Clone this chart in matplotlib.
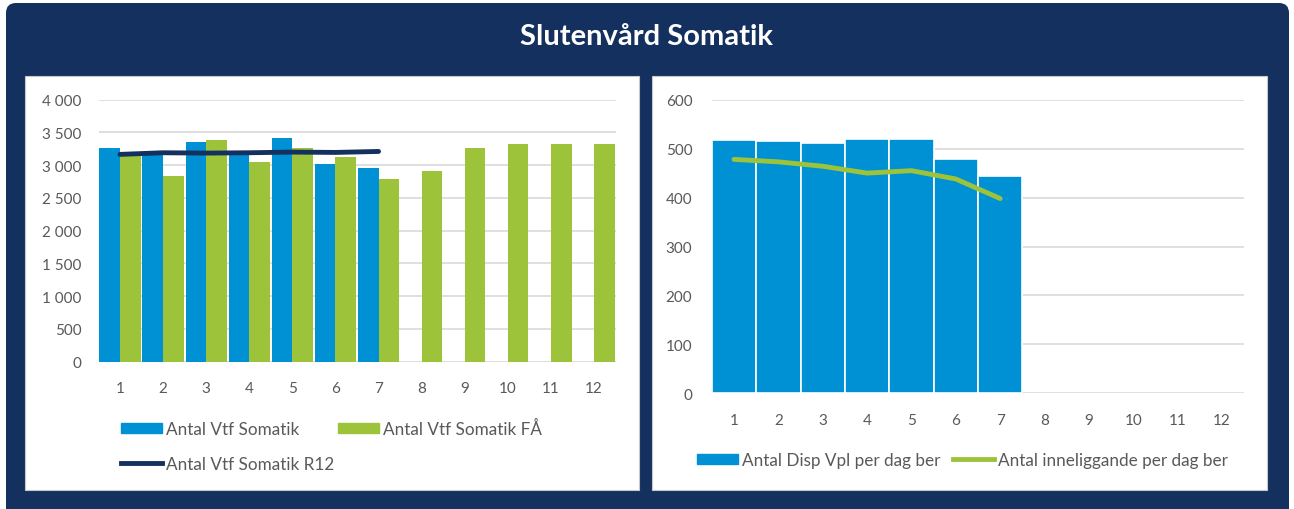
import numpy as np
import matplotlib
matplotlib.use("Agg")
import matplotlib.pyplot as plt
from matplotlib.patches import FancyBboxPatch, Rectangle, Patch
from matplotlib.lines import Line2D
from matplotlib.ticker import FuncFormatter

plt.rcParams['font.family'] = ['Lato', 'DejaVu Sans']

# data
months = [1, 2, 3, 4, 5, 6, 7, 8, 9, 10, 11, 12]
vtf_somatik = [3260, 3180, 3350, 3200, 3410, 3020, 2950]
vtf_somatik_fa = [3135, 2830, 3385, 3045, 3270, 3130, 2790, 2910, 3255, 3320, 3320, 3320]
vtf_somatik_r12 = [3165, 3190, 3185, 3190, 3200, 3195, 3210]

disp_vpl = [518, 515, 512, 520, 520, 479, 444]
inneliggande = [478, 473, 464, 450, 455, 438, 398]

NAVY = '#14305E'
BLUE = '#0090D4'
GREEN = '#9DC33B'
GRID = '#D9D9D9'
TXT = '#595959'

W, H = 1294, 510
fig = plt.figure(figsize=(W / 100, H / 100), dpi=100)

# background in pixel coords
bg = fig.add_axes([0, 0, 1, 1])
bg.set_xlim(0, W)
bg.set_ylim(H, 0)
bg.axis('off')
bg.add_patch(FancyBboxPatch((6, 4), 1283, 530, boxstyle="round,pad=0,rounding_size=10",
                            facecolor=NAVY, edgecolor='none'))
bg.add_patch(Rectangle((25, 77), 614, 414, facecolor='white', edgecolor='#C8C8C8', lw=0.8))
bg.add_patch(Rectangle((652, 77), 615, 414, facecolor='white', edgecolor='#C8C8C8', lw=0.8))
bg.text(647, 37, "Slutenvård Somatik", color='white', fontsize=21, fontweight='bold',
        ha='center', va='center')


def style_axis(ax):
    for s in ax.spines.values():
        s.set_visible(False)
    ax.tick_params(length=0, colors=TXT, labelsize=11)
    ax.grid(axis='y', color=GRID, lw=1.2)
    ax.set_axisbelow(True)
    ax.set_facecolor('none')


# left chart
ax1 = fig.add_axes([98.5 / W, 1 - 362.7 / H, 517 / W, 262 / H])
x = np.array(months)
bw = 0.48
ax1.bar(x[:len(vtf_somatik)] - bw / 2, vtf_somatik, bw, color=BLUE)
ax1.bar(x + bw / 2, vtf_somatik_fa, bw, color=GREEN)
ax1.plot(x[:len(vtf_somatik_r12)], vtf_somatik_r12, color=NAVY, lw=3.5,
         solid_capstyle='round')
ax1.set_xlim(0.5, 12.5)
ax1.set_ylim(0, 4000)
ax1.set_yticks(np.arange(0, 4001, 500))
ax1.yaxis.set_major_formatter(FuncFormatter(lambda v, p: f"{int(v):,}".replace(",", " ")))
ax1.set_xticks(months)
style_axis(ax1)
ax1.tick_params(axis='x', pad=14)
ax1.tick_params(axis='y', pad=12)

h1 = [Patch(color=BLUE), Line2D([], [], color=NAVY, lw=3.5), Patch(color=GREEN)]
lab1 = ["Antal Vtf Somatik", "Antal Vtf Somatik R12", "Antal Vtf Somatik FÅ"]
ax1.legend(h1, lab1, ncol=2, loc='upper left', bbox_to_anchor=(121 / W, 1 - 421 / H),
           bbox_transform=fig.transFigure, frameon=False, fontsize=12.3, labelcolor=TXT,
           handlelength=2.4, handleheight=0.55, handletextpad=0.25, columnspacing=0.2,
           labelspacing=1.1, borderaxespad=0, borderpad=0)

# right chart
ax2 = fig.add_axes([711.8 / W, 1 - 394.3 / H, 532.4 / W, 293.6 / H])
ax2.bar(x[:len(disp_vpl)], disp_vpl, 1.0, color=BLUE, edgecolor='white', lw=1.2)
ax2.plot(x[:len(inneliggande)], inneliggande, color=GREEN, lw=3.5, solid_capstyle='round')
ax2.set_xlim(0.5, 12.5)
ax2.set_ylim(0, 600)
ax2.set_yticks(np.arange(0, 601, 100))
ax2.set_xticks(months)
style_axis(ax2)
ax2.tick_params(axis='x', pad=14)
ax2.tick_params(axis='y', pad=14)

h2 = [Patch(color=BLUE), Line2D([], [], color=GREEN, lw=3.5)]
lab2 = ["Antal Disp Vpl per dag ber", "Antal inneliggande per dag ber"]
ax2.legend(h2, lab2, ncol=2, loc='center left', bbox_to_anchor=(697 / W, 1 - 461 / H),
           bbox_transform=fig.transFigure, frameon=False, fontsize=12.3, labelcolor=TXT,
           handlelength=2.4, handleheight=0.55, handletextpad=0.25, columnspacing=0.7,
           borderaxespad=0, borderpad=0)

fig.savefig("out.png", dpi=100)
